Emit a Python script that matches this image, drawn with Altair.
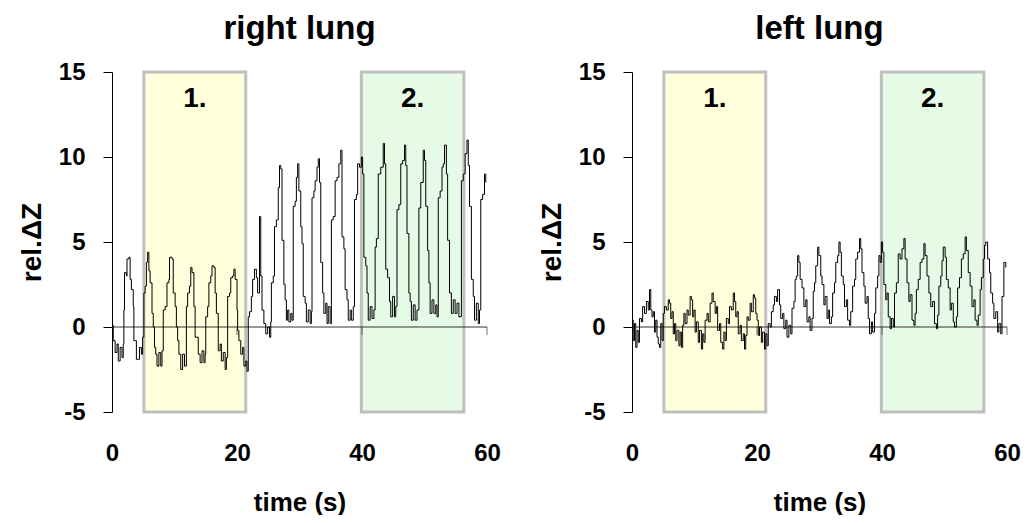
import altair as alt
import pandas as pd

# ---------------- data ----------------
RIGHT_T = [
    0, 0.2, 0.5, 0.8, 1.0, 1.3, 1.6, 1.8, 1.9, 2.0, 2.3, 2.4, 2.7, 2.9, 3.1, 3.4, 3.5, 3.8, 3.9, 4.2, 4.4, 4.7, 4.9,
    5.1, 5.3, 5.5, 5.7, 5.9, 6.1, 6.4, 6.6, 6.8, 7.0, 7.2, 7.5, 7.8, 8.0,
    8.2, 8.5, 8.8, 9.1, 9.2, 9.6, 9.8, 10.1, 10.3, 10.5, 10.7, 11.0, 11.3, 11.6,
    11.9, 12.1, 12.4, 12.6, 12.8, 13.1, 13.3, 13.6, 13.8, 14.1, 14.4, 14.7, 14.9,
    15.0, 15.3, 15.5, 15.8, 16.0, 16.3, 16.5, 16.7, 17.0, 17.3, 17.5, 17.8, 18.1, 18.3,
    18.5, 18.8, 19.0, 19.3, 19.5, 19.7, 20.0, 20.1, 20.3, 20.6, 20.9, 21.1, 21.4, 21.6,
    21.8, 22.0, 22.3, 22.5, 22.8, 23.1, 23.3, 23.6, 23.8, 24.0, 24.3, 24.6, 24.9, 25.2, 25.4,
    25.5, 25.8, 26.0, 26.3, 26.6, 26.8, 27.0, 27.2, 27.5, 27.7, 27.9, 28.1, 28.3, 28.6, 28.8,
    29.0, 29.3, 29.5, 29.7, 29.9, 30.2, 30.4, 30.6, 30.9, 31.1, 31.4, 31.7, 31.9,
    32.0, 32.3, 32.5, 32.8, 33.0, 33.2, 33.4, 33.7, 33.9, 34.2, 34.4, 34.6, 34.9,
    35.1, 35.4, 35.7, 36.0, 36.3, 36.6, 36.8, 37.1, 37.3, 37.6, 37.8, 38.1, 38.3, 38.6,
    38.8, 39.1, 39.3, 39.6, 39.9, 40.1, 40.3, 40.6, 40.8, 41.0, 41.3, 41.6, 41.9,
    42.1, 42.3, 42.6, 43.0, 43.4, 43.6, 43.8, 44.1, 44.4, 44.6, 44.9, 45.2, 45.4,
    45.6, 45.9, 46.2, 46.5, 46.8, 47.0, 47.2, 47.5, 47.7, 47.9, 48.2, 48.5, 48.8,
    49.1, 49.4, 49.8, 50.0, 50.2, 50.5, 50.7, 50.9, 51.2, 51.5, 51.8, 52.0,
    52.2, 52.5, 52.8, 53.0, 53.2, 53.5, 53.7, 54.0, 54.3, 54.6, 54.9, 55.2, 55.5,
    55.9, 56.2, 56.5, 56.8, 57.0, 57.2, 57.5, 57.8, 58.0, 58.3, 58.6, 58.8,
    59.0, 59.3, 59.6, 59.8,
]
RIGHT_V = [
    0.1, -0.8, -1.5, -1.0, -2.0, -1.2, -1.8, -1.0, 1.0, 3.2, 3.0, 4.0, 4.1, 2.8, 2.2, 1.2, -0.8, -0.8, -1.9, -1.9, -1.2, -1.6, -0.6,
    2.0, 2.4, 3.8, 4.4, 3.3, 2.6, 0.8, 0.0, -1.2, -1.6, -2.3, -1.5, -2.3, -1.4,
    1.0, 1.2, 2.6, 2.8, 4.1, 4.0, 2.0, 1.2, 0.0, -0.8, -1.6, -2.5, -1.6, -2.3,
    1.2, 2.0, 2.4, 3.5, 3.2, 1.2, -0.6, -0.6, -1.6, -2.1, -1.4, -2.1, -1.6,
    0.6, 1.2, 2.6, 3.0, 3.6, 3.5, 2.0, 0.8, -1.4, -1.0, -2.0, -1.5, -2.5, -1.8,
    1.8, 2.0, 2.9, 3.0, 3.4, 2.8, 1.0, -0.2, -0.8, -1.6, -1.2, -2.3, -2.0, -2.6,
    0.6, 0.9, 1.8, 2.8, 3.4, 2.9, 2.0, 6.5, 3.0, 1.0, 0.2, -0.4, 0.0, -0.6, 0.3,
    2.6, 3.0, 5.9, 6.3, 8.2, 9.5, 9.3, 5.1, 2.5, 1.6, 0.4, 1.0, 0.3, 0.8, 0.4,
    7.1, 7.4, 8.8, 9.6, 8.0, 5.9, 4.9, 1.8, 1.4, 0.3, 1.0, 0.2, 0.9,
    7.6, 8.0, 8.6, 9.4, 9.9, 8.5, 3.8, 2.0, 0.8, 1.4, 0.2, 1.2, 0.2,
    6.3, 6.5, 8.6, 8.8, 9.6, 10.4, 5.3, 4.6, 2.2, 1.6, 0.4, 1.0, 0.4, 1.2,
    7.5, 7.8, 9.6, 9.4, 10.0, 9.0, 4.1, 3.6, 2.0, 0.4, 1.2, 0.5, 1.0,
    4.7, 5.2, 9.0, 9.4, 10.8, 9.6, 3.4, 2.9, 1.5, 0.6, 1.8, 0.6, 1.2,
    6.9, 7.2, 9.6, 9.8, 10.7, 9.5, 5.5, 2.0, 1.5, 0.4, 1.3, 0.4, 1.0,
    7.0, 8.5, 10.4, 9.8, 7.1, 4.5, 2.6, 0.8, 1.6, 0.8, 1.3, 0.6,
    7.6, 8.0, 9.4, 9.6, 10.7, 9.0, 5.1, 2.0, 0.8, 1.6, 0.8, 1.4, 0.6,
    8.6, 9.0, 10.2, 11.0, 9.5, 7.1, 2.8, 1.8, 0.4, 1.4, 0.2, 1.0,
    7.5, 7.8, 9.0, 8.5,
]

LEFT_T = [
    0, 0.2, 0.4, 0.6, 0.8, 1.0, 1.2, 1.5, 1.7, 2.0, 2.3, 2.6, 2.8, 3.0, 3.2, 3.4, 3.6, 3.8, 4.0, 4.2, 4.4, 4.6, 4.8,
    5.0, 5.2, 5.5, 5.8, 6.0, 6.2, 6.4, 6.6, 6.8, 7.0, 7.2, 7.5, 7.7, 7.9, 8.1,
    8.3, 8.5, 8.8, 9.0, 9.3, 9.5, 9.7, 9.9, 10.1, 10.3, 10.6, 10.8, 11.1, 11.3, 11.5,
    11.7, 12.0, 12.2, 12.5, 12.8, 13.0, 13.3, 13.5, 13.7, 14.0, 14.2, 14.5, 14.7, 14.9,
    15.1, 15.4, 15.6, 15.9, 16.2, 16.4, 16.6, 16.8, 17.0, 17.3, 17.5, 17.8, 18.0, 18.2,
    18.4, 18.6, 18.9, 19.1, 19.4, 19.6, 19.8, 20.0, 20.2, 20.4, 20.7, 20.9, 21.2, 21.4, 21.6,
    21.8, 22.1, 22.3, 22.6, 22.8, 23.1, 23.3, 23.6, 23.8, 24.1, 24.3, 24.6, 24.8, 25.1, 25.4,
    25.6, 25.9, 26.1, 26.3, 26.5, 26.7, 26.9, 27.2, 27.5, 27.8, 28.0, 28.3, 28.5, 28.8,
    29.0, 29.2, 29.4, 29.7, 29.9, 30.2, 30.4, 30.7, 30.9, 31.2, 31.4, 31.6, 31.9,
    32.1, 32.4, 32.6, 32.9, 33.1, 33.3, 33.5, 33.8, 34.0, 34.3, 34.5, 34.8, 35.0,
    35.3, 35.6, 35.8, 36.1, 36.4, 36.6, 36.8, 37.1, 37.3, 37.6, 37.8, 38.0, 38.3, 38.5, 38.8,
    39.0, 39.3, 39.5, 39.7, 39.9, 40.1, 40.3, 40.6, 40.8, 41.0, 41.3, 41.5, 41.8,
    42.0, 42.3, 42.6, 42.9, 43.2, 43.5, 43.7, 44.0, 44.3, 44.5, 44.8, 45.1, 45.3,
    45.5, 45.8, 46.1, 46.4, 46.7, 46.9, 47.2, 47.5, 47.8, 48.1, 48.4, 48.7, 48.9,
    49.1, 49.4, 49.6, 49.8, 50.1, 50.3, 50.6, 50.9, 51.1, 51.4, 51.6, 51.9,
    52.1, 52.4, 52.7, 53.0, 53.3, 53.5, 53.8, 54.1, 54.4, 54.7, 54.9, 55.2, 55.4,
    55.7, 55.9, 56.2, 56.4, 56.6, 56.9, 57.2, 57.4, 57.7, 57.9, 58.2, 58.5, 58.7, 59.0, 59.2, 59.5, 59.8,
]
LEFT_V = [
    0.4, -0.8, 0.2, -1.2, -0.2, -0.9, 0.5, 0.3, 1.2, 0.8, 1.5, 1.0, 2.2, 1.0, 0.6, 0.9, -0.3, 0.4, -0.6, -1.0, -1.2, 0.2, -0.8,
    0.8, 1.2, 1.0, 1.6, 1.4, 0.5, 0.9, -0.4, 0.2, -0.8, -0.2, -1.1, -0.3, -1.2, 0.1,
    0.8, 0.2, 1.0, 0.7, 1.8, 1.6, 0.6, 1.0, -0.3, 0.3, -0.9, -0.2, -1.3, -0.4, -0.9,
    0.4, 0.8, 0.3, 1.4, 2.0, 1.5, 0.8, 1.2, -0.2, 0.2, -0.9, -1.3, -0.3, -0.8,
    0.5, 0.2, 1.2, 1.0, 2.0, 1.5, 0.6, 0.9, -0.4, 0.1, -0.8, -0.4, -1.3, -0.5,
    0.6, 0.4, 1.4, 0.9, 1.9, 1.7, 0.8, 0.4, -0.5, 0.0, -0.9, -0.3, -1.3, -0.4, -1.1,
    0.2, 0.0, 0.9, 1.3, 1.8, 1.5, 2.2, 1.3, 0.5, 0.8, -0.1, 0.4, -0.6, 0.1, -0.4,
    1.1, 1.5, 2.8, 3.0, 4.2, 3.8, 2.8, 2.3, 1.2, 1.6, 0.3, 0.6, -0.2, 0.5,
    2.1, 2.6, 3.6, 4.7, 4.2, 3.0, 2.5, 1.3, 1.8, 0.5, 1.0, 0.2, 0.6,
    2.0, 2.6, 3.8, 4.2, 5.0, 4.4, 3.0, 2.5, 1.2, 1.6, 0.4, 0.1, 0.9,
    2.4, 2.8, 4.0, 4.4, 5.2, 4.6, 3.2, 2.4, 1.4, 1.8, 0.5, -0.4, 0.3, -0.3, 0.8,
    2.3, 3.0, 4.2, 3.8, 5.0, 4.4, 2.5, 1.6, 2.0, 0.6, -0.1, 0.5, 0.0,
    2.0, 2.6, 4.3, 4.0, 4.6, 5.2, 4.0, 2.6, 1.5, 1.9, 0.4, 0.1, 0.8,
    2.2, 2.8, 3.8, 4.0, 4.9, 4.2, 3.0, 2.0, 1.2, 1.5, 0.2, -0.1, 0.7,
    2.4, 3.0, 3.9, 4.7, 4.1, 2.8, 2.3, 1.0, 1.4, 0.3, 0.0, 0.6,
    2.3, 2.9, 4.0, 4.3, 5.3, 4.5, 3.2, 2.4, 1.2, 1.6, 0.4, 0.1, 0.7,
    2.2, 2.9, 4.0, 4.8, 5.0, 4.0, 3.2, 2.0, 1.4, 0.5, 0.9, -0.3, 0.2, -0.4, 1.8, 3.8, 3.5,
]

PANEL_TITLES = ["right lung", "left lung"]
BOX_LABELS = ["1.", "2."]
BOX_START = [5.1, 39.9]
BOX_END = [21.4, 56.3]
BOX_COLORS = ["#FFFFDC", "#E6FBE6"]
Y_MIN, Y_MAX = -5, 15
LABEL_Y = [13.4, 13.4]
Y_TICKS = [-5, 0, 5, 10, 15]
X_TICKS = [0, 20, 40, 60]
ZERO_TICKS = [20, 40, 60]

FONT = "Liberation Sans"

assert len(RIGHT_T) == len(RIGHT_V)
assert len(LEFT_T) == len(LEFT_V)

XSCALE = alt.Scale(domain=[0, 60], nice=False, zero=False)
YSCALE = alt.Scale(domain=[Y_MIN, Y_MAX], nice=False, zero=False)

XAXIS = alt.Axis(values=X_TICKS, domain=False, ticks=False, tickSize=0, grid=False,
                 labelFont=FONT, labelFontWeight="bold", labelFontSize=24,
                 labelColor="#000", labelPadding=29, labelFlush=False,
                 title="time (s)", titleFont=FONT, titleFontWeight="bold",
                 titleFontSize=26, titleColor="#000", titlePadding=24)
YAXIS = alt.Axis(values=Y_TICKS, domain=True, domainColor="#000", domainWidth=1,
                 ticks=True, tickColor="#000", tickSize=9, tickWidth=1, grid=False,
                 labelFont=FONT, labelFontWeight="bold", labelFontSize=24,
                 labelColor="#000", labelPadding=18, labelFlush=False,
                 labelExpr="'' + datum.value",
                 title="rel.ΔZ", titleFont=FONT, titleFontWeight="bold",
                 titleFontSize=28, titleColor="#000", titlePadding=12)


def X(field):
    return alt.X(field, scale=XSCALE, axis=XAXIS)


def Y(field):
    return alt.Y(field, scale=YSCALE, axis=YAXIS)


def panel(title, t, v):
    sig = pd.DataFrame({"t": t, "v": v})
    boxes = pd.DataFrame({
        "label": BOX_LABELS, "start": BOX_START, "end": BOX_END,
        "lo": [Y_MIN] * 2, "hi": [Y_MAX] * 2, "ly": LABEL_Y,
    })
    zero = pd.DataFrame({"z": [0]})
    zt = pd.DataFrame({"t": ZERO_TICKS, "z": [0] * len(ZERO_TICKS)})

    rects = alt.Chart(boxes).mark_rect(stroke="#BFBFBF", strokeWidth=3).encode(
        x=X("start:Q"),
        x2="end:Q",
        y=Y("lo:Q"),
        y2="hi:Q",
        fill=alt.Fill("label:N", scale=alt.Scale(domain=BOX_LABELS, range=BOX_COLORS), legend=None),
    )
    zline = alt.Chart(zero).mark_rule(color="#333333", strokeWidth=1).encode(
        y=Y("z:Q")
    )
    zticks = alt.Chart(zt).mark_tick(orient="vertical", size=8, thickness=1, yOffset=4,
                                     color="#333333").encode(
        x=X("t:Q"),
        y=Y("z:Q"),
    )
    line = alt.Chart(sig).mark_line(color="#000000", strokeWidth=1,
                                    interpolate="step-after").encode(
        x=X("t:Q"),
        y=Y("v:Q"),
        order="t:Q",
    )
    labels = alt.Chart(boxes).transform_calculate(mid="(datum.start + datum.end) / 2").mark_text(
        font=FONT, fontWeight="bold", fontSize=28, color="#000"
    ).encode(
        x=X("mid:Q"),
        y=Y("ly:Q"),
        text="label:N",
    )
    return alt.layer(rects, zline, zticks, line, labels).properties(
        width=375, height=340,
        title=alt.Title(title, font=FONT, fontWeight="bold", fontSize=33, color="#000",
                        anchor="middle", frame="group", offset=14),
    )


chart = alt.hconcat(
    panel(PANEL_TITLES[0], RIGHT_T, RIGHT_V),
    panel(PANEL_TITLES[1], LEFT_T, LEFT_V),
    spacing=37,
).properties(
    padding={"left": 10, "top": 5, "right": 0, "bottom": 0},
    background="#ffffff",
).configure_view(stroke=None)

chart.save("out.html", embed_options={"renderer": "svg", "actions": False})
